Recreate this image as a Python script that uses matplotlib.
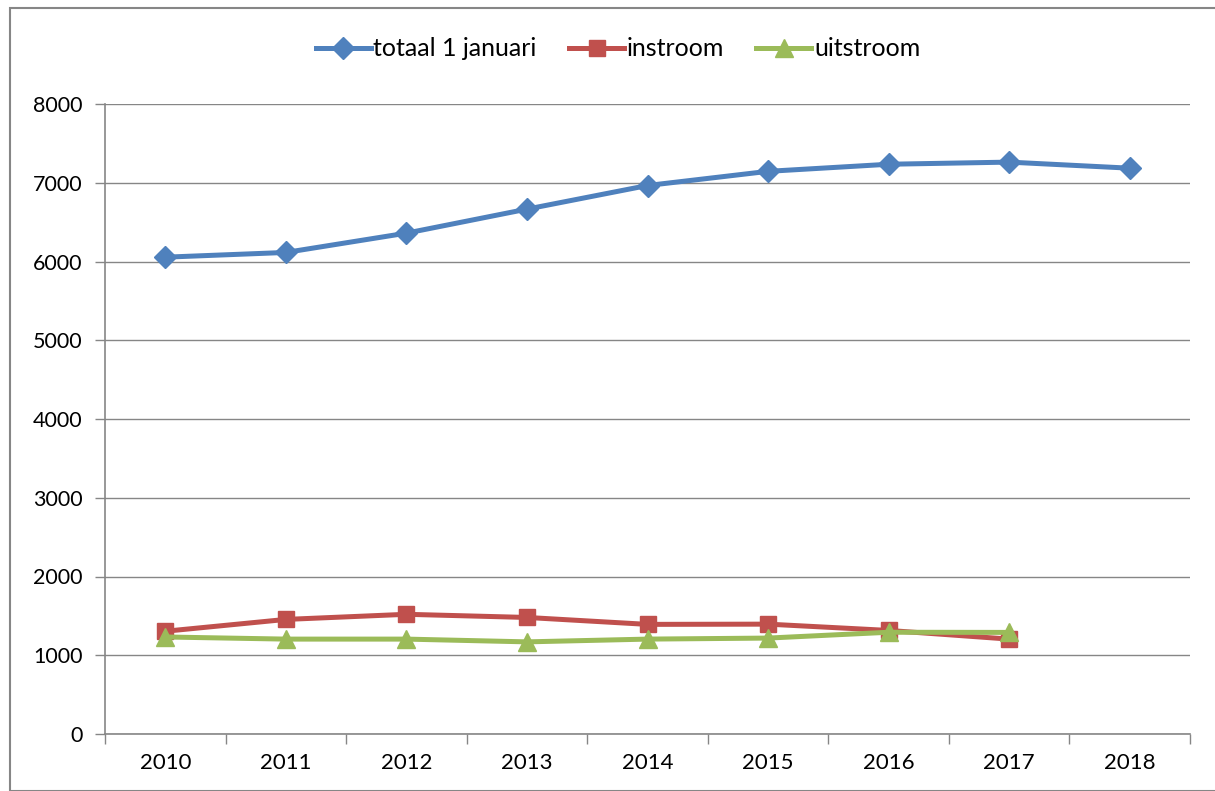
import matplotlib
matplotlib.use('Agg')
import matplotlib.pyplot as plt
from matplotlib.patches import Rectangle

# Data
years = ['2010', '2011', '2012', '2013', '2014', '2015', '2016', '2017', '2018']
totaal = [6055, 6115, 6360, 6665, 6965, 7145, 7235, 7262, 7185]
instroom = [1305, 1455, 1520, 1480, 1392, 1395, 1315, 1205]
uitstroom = [1232, 1205, 1205, 1170, 1205, 1218, 1292, 1290]

yticks = [0, 1000, 2000, 3000, 4000, 5000, 6000, 7000, 8000]

plt.rcParams['font.family'] = ['Lato', 'DejaVu Sans']

fig = plt.figure(figsize=(12.15, 7.91), dpi=100)
ax = fig.add_axes([105 / 1215, 1 - 734 / 791, 1085 / 1215, 630 / 791])

# Outer chart border
fig.patches.append(Rectangle((10 / 1215, 0), 1.2, 1 - 8 / 791, transform=fig.transFigure,
                             fill=False, edgecolor='#868686', linewidth=1.5))

x = list(range(len(years)))
ax.plot(x, totaal, color='#4F81BD', lw=3.6, marker='D', ms=11.5, label='totaal 1 januari', zorder=3)
ax.plot(x[:len(instroom)], instroom, color='#C0504D', lw=3.6, marker='s', ms=12, label='instroom', zorder=3)
ax.plot(x[:len(uitstroom)], uitstroom, color='#9BBB59', lw=3.6, marker='^', ms=13.5, label='uitstroom', zorder=4)

ax.set_xlim(-0.5, len(years) - 0.5)
ax.set_ylim(0, 8000)
ax.set_yticks(yticks)
ax.set_xticks(x)
ax.set_xticklabels(years)
ax.set_xticks([i - 0.5 for i in range(len(years) + 1)], minor=True)
ax.tick_params(axis='x', which='major', length=0, pad=14, labelsize=16)
ax.tick_params(axis='x', which='minor', length=7, color='#868686', width=1)
ax.tick_params(axis='y', length=7, color='#868686', width=1, pad=9, labelsize=15.5)

ax.grid(axis='y', color='#868686', lw=1)
ax.set_axisbelow(True)
for side in ['top', 'right']:
    ax.spines[side].set_visible(False)
for side in ['left', 'bottom']:
    ax.spines[side].set_color('#868686')
    ax.spines[side].set_linewidth(1.2)

fig.legend(loc='center', bbox_to_anchor=(618 / 1215, 1 - 49 / 791), ncol=3, frameon=False,
           fontsize=18, handlelength=2.2, columnspacing=1.3, handletextpad=0.1)

plt.savefig('out.png', dpi=100)
